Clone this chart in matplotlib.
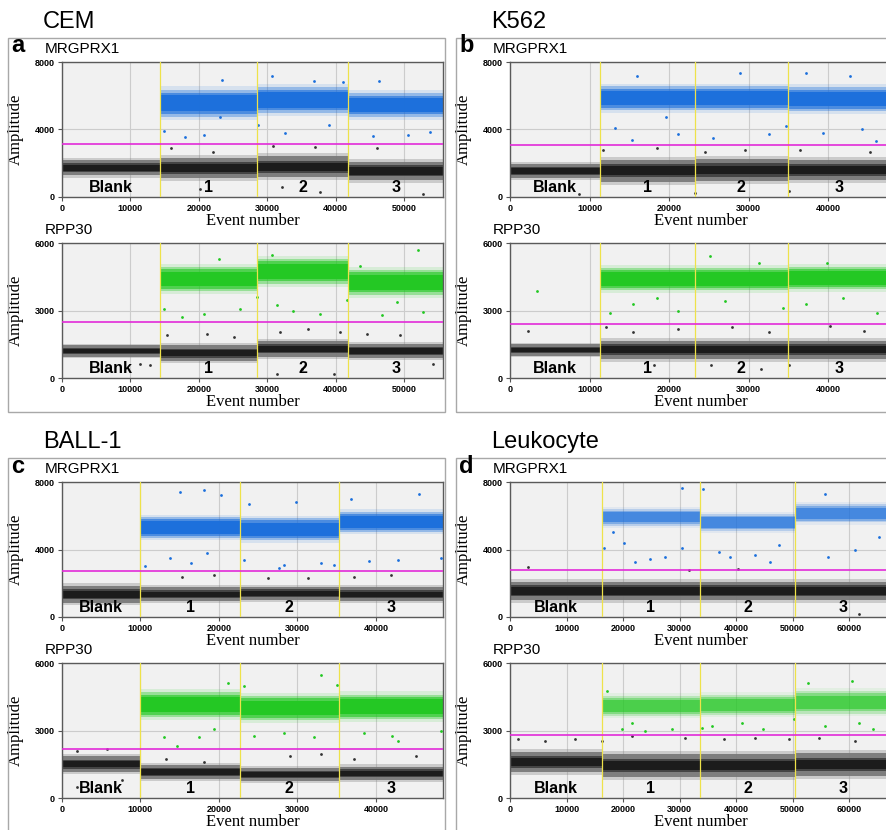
import matplotlib
matplotlib.use("Agg")
import matplotlib.pyplot as plt
from matplotlib.patches import Rectangle

plt.rcParams["font.family"] = ["Liberation Sans", "DejaVu Sans"]

W, H = 886, 830

CELLS = ["CEM", "K562", "BALL-1", "Leukocyte"]
LETTERS = ["a", "b", "c", "d"]
GENES = ["MRGPRX1", "RPP30"]
WELL_NAMES = ["Blank", "1", "2", "3"]
Y_TICKS = [[0, 4000, 8000], [0, 3000, 6000]]

# well boundaries (event number) and end of the x-axis, per cell line
WELL_EDGES = [[14300, 28550, 41850], [11300, 23250, 34900],
              [9970, 22700, 35240], [16230, 33630, 50440]]
X_MAX = [55700, 47900, 48550, 67400]

# threshold amplitude, per cell line
MRG_THRESHOLD = [3150, 3100, 2700, 2800]
RPP_THRESHOLD = [2500, 2400, 2200, 2800]

# positive droplet cluster: centre and half-spread for wells 1-3
MRG_POS_MID = [[5550, 5750, 5450], [5850, 5850, 5800], [5300, 5200, 5650], [5900, 5600, 6150]]
MRG_POS_HALF = [[800, 750, 700], [700, 700, 700], [600, 650, 600], [500, 500, 550]]
RPP_POS_MID = [[4400, 4750, 4250], [4400, 4400, 4450], [4150, 4000, 4050], [4100, 4150, 4250]]
RPP_POS_HALF = [[550, 550, 550], [500, 500, 500], [550, 550, 550], [450, 450, 500]]
POS_DENSITY = [1.0, 1.0, 1.0, 0.6]

# negative droplet cluster: centre and half-spread for blank + wells 1-3
MRG_NEG_MID = [[1730, 1700, 1800, 1550], [1550, 1550, 1600, 1600],
               [1350, 1350, 1400, 1350], [1550, 1550, 1550, 1550]]
MRG_NEG_HALF = [[450, 600, 600, 550], [400, 650, 650, 600],
                [500, 400, 400, 400], [550, 550, 550, 550]]
RPP_NEG_MID = [[1200, 1100, 1300, 1200], [1250, 1250, 1250, 1250],
               [1500, 1150, 1050, 1100], [1600, 1450, 1450, 1500]]
RPP_NEG_HALF = [[250, 350, 350, 300], [250, 400, 400, 400],
                [350, 300, 280, 300], [450, 500, 500, 500]]

# scattered droplets (event number, amplitude)
MRG_POS_OUT_X = [[14850, 18000, 20700, 23100, 23400, 28700, 30700, 32600, 36800, 39000, 41100, 45500, 46400, 50600, 53800],
                 [13200, 15300, 16000, 19600, 21100, 25500, 28900, 32600, 34700, 37200, 39400, 42800, 44300, 46000],
                 [10600, 13800, 15100, 16400, 18100, 18500, 20200, 23200, 23800, 27700, 28300, 29800, 33000, 34700, 36800, 39100, 42800, 45500, 48300],
                 [16700, 18300, 20100, 22100, 24800, 27400, 30400, 30500, 34200, 36900, 38900, 43400, 46000, 47500, 55800, 56300, 61100, 65200]]
MRG_POS_OUT_Y = [[3930, 3530, 3670, 4760, 6950, 4270, 7150, 3810, 6900, 4270, 6800, 3610, 6850, 3670, 3870],
                 [4110, 3400, 7150, 4720, 3710, 3500, 7350, 3710, 4210, 7350, 3810, 7150, 4010, 3300],
                 [3000, 3500, 7400, 3200, 7500, 3800, 7200, 3400, 6700, 2900, 3100, 6800, 3200, 3100, 7000, 3300, 3400, 7300, 3500],
                 [4060, 5060, 4360, 3260, 3460, 3560, 4060, 7660, 7560, 3860, 3560, 3660, 3260, 4260, 7260, 3560, 3960, 4760]]
MRG_NEG_OUT_X = [[16000, 22100, 30900, 37000, 46000, 20200, 32100, 37700, 52800],
                 [11700, 18500, 24500, 29600, 36400, 45300, 8700, 23200, 35100],
                 [15300, 19400, 26200, 31300, 37200, 41900],
                 [3100, 31600, 40400, 61700]]
MRG_NEG_OUT_Y = [[2880, 2680, 3040, 2980, 2880, 500, 600, 300, 200],
                 [2790, 2900, 2690, 2790, 2790, 2690, 160, 260, 360],
                 [2400, 2500, 2300, 2300, 2400, 2500],
                 [2960, 2760, 2860, 160]]
RPP_POS_OUT_X = [[14850, 17500, 20700, 22900, 26000, 28500, 30700, 31400, 33800, 37700, 41600, 43600, 46800, 49000, 52100, 52800],
                 [3400, 12600, 15500, 18500, 21100, 25100, 27000, 31300, 34300, 37200, 39800, 41900, 46200],
                 [13000, 14700, 17400, 19400, 21100, 23200, 24500, 28300, 32100, 33000, 35100, 38500, 42100, 42800, 48300],
                 [17100, 19800, 21500, 23900, 28600, 33900, 35700, 41000, 44800, 50200, 52800, 55800, 60500, 61700, 64300]]
RPP_POS_OUT_Y = [[3080, 2710, 2860, 5300, 3080, 3600, 5450, 3230, 3000, 2860, 3450, 5000, 2780, 3380, 5670, 2930],
                 [3870, 2910, 3280, 3570, 2980, 5410, 3430, 5120, 3130, 3280, 5120, 3570, 2910],
                 [2690, 2320, 2690, 3060, 5120, 4970, 2760, 2910, 2690, 5480, 5040, 2910, 2760, 2540, 2980],
                 [4750, 3060, 3350, 2980, 3060, 3130, 3200, 3350, 3060, 3490, 5120, 3200, 5190, 3350, 3060]]
RPP_NEG_OUT_X = [[15300, 21200, 25100, 31900, 36000, 40700, 44600, 49400, 11400, 12900, 31400, 35100, 39700, 54300],
                 [2300, 12100, 15500, 21100, 27900, 32600, 40200, 44500, 18100, 25300, 31500, 35100],
                 [1900, 5700, 13200, 18100, 29100, 33000, 37200, 45100, 7700, 1900],
                 [1500, 6200, 11500, 16200, 21500, 31000, 37800, 43400, 49300, 54600, 61100]]
RPP_NEG_OUT_Y = [[1900, 1970, 1820, 2040, 2190, 2040, 1970, 1900, 640, 560, 190, 410, 190, 640],
                 [2100, 2250, 2030, 2180, 2250, 2030, 2320, 2100, 560, 560, 410, 560],
                 [2100, 2180, 1730, 1590, 1880, 1960, 1730, 1880, 780, 490],
                 [2610, 2540, 2610, 2540, 2760, 2680, 2610, 2680, 2610, 2680, 2540]]

BLUE, GREEN = "#1b6fdc", "#22c822"
NEG_FRINGE, NEG_CORE = "#767676", "#1c1c1c"

OFFSETS = [(0, 0), (448, 0), (0, 420), (448, 420)]


def frac(x, y, w=0, h=0):
    return [x / W, 1 - (y + h) / H, w / W, h / H]


def ftext(x, y, s, **kw):
    fig.text(x / W, 1 - y / H, s, **kw)


fig = plt.figure(figsize=(W / 100, H / 100), dpi=100)

for p in range(4):
    dx, dy = OFFSETS[p]
    box_w = 437 if dx == 0 else 470
    fig.add_artist(Rectangle(frac(8 + dx, 38 + dy, box_w, 374)[:2], box_w / W, 374 / H,
                             transform=fig.transFigure, fill=False, ec="#a8a8a8", lw=1.0))

    ftext(43 + dx, 22 + dy, CELLS[p], fontsize=17, va="center", ha="left")
    ftext(11 + dx, 46 + dy, LETTERS[p], fontsize=17, fontweight="bold", va="center", ha="left")

    for g in range(2):
        if g == 0:
            thr = MRG_THRESHOLD[p]
            pos_mid, pos_half = MRG_POS_MID[p], MRG_POS_HALF[p]
            neg_mid, neg_half = MRG_NEG_MID[p], MRG_NEG_HALF[p]
            px_, py_ = MRG_POS_OUT_X[p], MRG_POS_OUT_Y[p]
            nx_, ny_ = MRG_NEG_OUT_X[p], MRG_NEG_OUT_Y[p]
            colour = BLUE
            ax_y, gene_y = 62, 49
        else:
            thr = RPP_THRESHOLD[p]
            pos_mid, pos_half = RPP_POS_MID[p], RPP_POS_HALF[p]
            neg_mid, neg_half = RPP_NEG_MID[p], RPP_NEG_HALF[p]
            px_, py_ = RPP_POS_OUT_X[p], RPP_POS_OUT_Y[p]
            nx_, ny_ = RPP_NEG_OUT_X[p], RPP_NEG_OUT_Y[p]
            colour = GREEN
            ax_y, gene_y = 243, 230

        ftext(45 + dx, gene_y + dy, GENES[g], fontsize=11, va="center", ha="left")

        ax = fig.add_axes(frac(62 + dx, ax_y + dy, 381, 135))
        ax.set_facecolor("#f1f1f1")
        ymax = Y_TICKS[g][-1]
        ax.set_xlim(0, X_MAX[p])
        ax.set_ylim(0, ymax)

        edges = [0] + WELL_EDGES[p] + [X_MAX[p]]
        for k in range(4):
            x0, x1 = edges[k], edges[k + 1]
            m, h = neg_mid[k], neg_half[k]
            for f, c, a in [(1.3, NEG_FRINGE, 0.3), (1.0, NEG_FRINGE, 0.9),
                            (0.6, "#444444", 1.0), (0.4, NEG_CORE, 1.0)]:
                ax.fill_between([x0, x1], m - f * h, m + f * h, color=c, alpha=a, lw=0, zorder=2)
            if k > 0:
                m, h = pos_mid[k - 1], pos_half[k - 1]
                for f, a in [(1.25, 0.12), (1.0, 0.35), (0.8, 0.6), (0.6, 0.95)]:
                    ax.fill_between([x0, x1], m - f * h, m + f * h, color=colour,
                                    alpha=a * POS_DENSITY[p], lw=0, zorder=2)
            ax.text((x0 + x1) / 2, ymax * 0.015, WELL_NAMES[k], ha="center", va="bottom",
                    fontsize=11.5, fontweight="bold", zorder=5)

        ax.scatter(px_, py_, s=4, color=colour, lw=0, zorder=3)
        ax.scatter(nx_, ny_, s=4, color="#333333", lw=0, zorder=3)

        for e in WELL_EDGES[p]:
            ax.axvline(e, color="#eee24a", lw=0.9, zorder=4)
        ax.axhline(thr, color="#e22ad8", lw=1.2, zorder=4)

        ax.set_xticks(range(0, X_MAX[p], 10000))
        ax.set_yticks(Y_TICKS[g])
        ax.tick_params(labelsize=6.5, length=3, color="#555555", pad=2)
        plt.setp(ax.get_xticklabels() + ax.get_yticklabels(), fontweight="bold")
        ax.grid(True, color="#cccccc", lw=0.8, zorder=0)
        ax.set_axisbelow(True)
        for s in ax.spines.values():
            s.set_color("#5a5a5a")
            s.set_linewidth(1.0)

        ax.set_ylabel("Amplitude", family="Liberation Serif", fontsize=12)
        ax.yaxis.set_label_coords(-0.1, 0.5)
        ax.set_xlabel("Event number", family="Liberation Serif", fontsize=12)
        ax.xaxis.set_label_coords(0.5, -0.12)

fig.savefig("out.png", dpi=100)
